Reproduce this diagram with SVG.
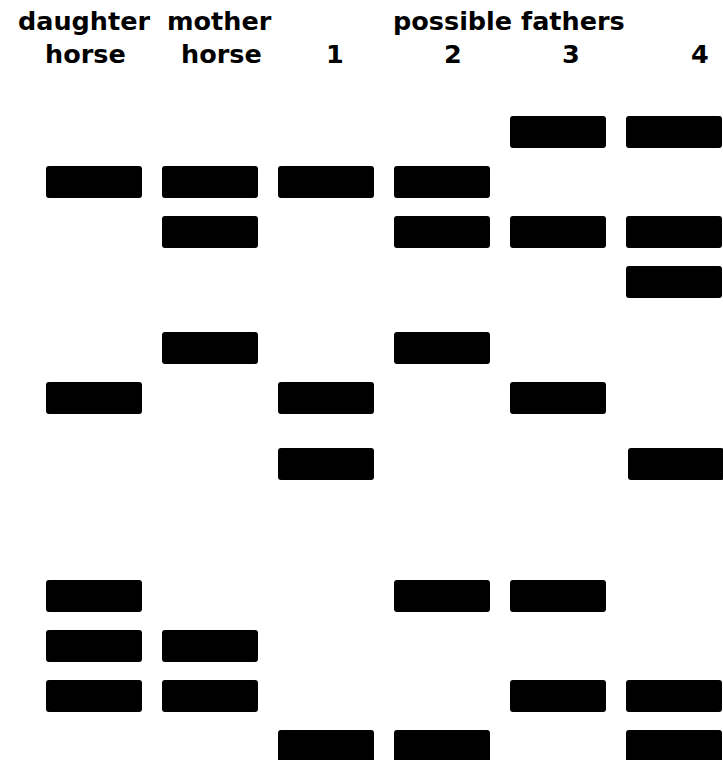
<svg xmlns="http://www.w3.org/2000/svg" width="723" height="760" viewBox="0 0 723 760">
<style>
.h{font-family:"DejaVu Sans",Verdana,sans-serif;font-weight:bold;font-size:25.5px;fill:#000}
.b{fill:#000}
</style>
<defs><rect id="band" width="96" height="32" rx="3" ry="3"/></defs>
<rect width="723" height="760" fill="#fff"/>
<g id="header">
<text class="h" x="18" y="30">daughter</text>
<text class="h" x="167" y="30">mother</text>
<text class="h" x="393" y="30">possible fathers</text>
<text class="h" x="45" y="63">horse</text>
<text class="h" x="181" y="63">horse</text>
<text class="h" x="326" y="63">1</text>
<text class="h" x="444" y="63">2</text>
<text class="h" x="562" y="63">3</text>
<text class="h" x="691" y="63">4</text>
</g>
<g id="lane-daughter" class="b">
<use href="#band" x="46" y="166"/>
<use href="#band" x="46" y="382"/>
<use href="#band" x="46" y="580"/>
<use href="#band" x="46" y="630"/>
<use href="#band" x="46" y="680"/>
</g>
<g id="lane-mother" class="b">
<use href="#band" x="162" y="166"/>
<use href="#band" x="162" y="216"/>
<use href="#band" x="162" y="332"/>
<use href="#band" x="162" y="630"/>
<use href="#band" x="162" y="680"/>
</g>
<g id="lane-father1" class="b">
<use href="#band" x="278" y="166"/>
<use href="#band" x="278" y="382"/>
<use href="#band" x="278" y="448"/>
<use href="#band" x="278" y="730"/>
</g>
<g id="lane-father2" class="b">
<use href="#band" x="394" y="166"/>
<use href="#band" x="394" y="216"/>
<use href="#band" x="394" y="332"/>
<use href="#band" x="394" y="580"/>
<use href="#band" x="394" y="730"/>
</g>
<g id="lane-father3" class="b">
<use href="#band" x="510" y="116"/>
<use href="#band" x="510" y="216"/>
<use href="#band" x="510" y="382"/>
<use href="#band" x="510" y="580"/>
<use href="#band" x="510" y="680"/>
</g>
<g id="lane-father4" class="b">
<use href="#band" x="626" y="116"/>
<use href="#band" x="626" y="216"/>
<use href="#band" x="626" y="266"/>
<use href="#band" x="628" y="448"/>
<use href="#band" x="626" y="680"/>
<use href="#band" x="626" y="730"/>
</g>
<g id="connectors"></g>
</svg>
